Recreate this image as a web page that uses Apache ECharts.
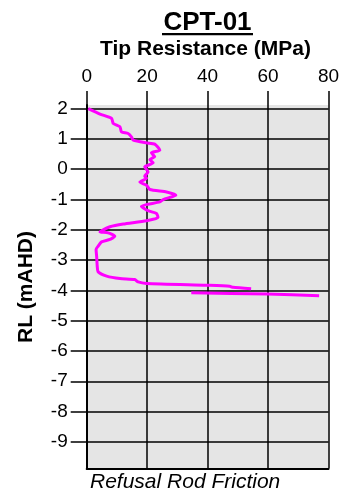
<!DOCTYPE html>
<html>
<head>
<meta charset="utf-8">
<script src="https://cdn.jsdelivr.net/npm/echarts@6/dist/echarts.min.js"></script>
<style>
html,body{margin:0;padding:0;background:#fff;}
#c{width:343px;height:498px;}
</style>
</head>
<body>
<div id="c"></div>
<script>
// RL (mAHD) along the trace; null marks a break in the trace
var rlValues = [2.0, 1.82, 1.68, 1.51, 1.40, 1.23, 1.18, 1.07, 0.96, 0.87, 0.83, 0.63, 0.54, 0.41, 0.32, 0.21, 0.08, -0.09, -0.23, -0.30, -0.42, -0.53, -0.67, -0.75, -0.86, -1.00, -1.08, -1.22, -1.37, -1.46, -1.59, -1.70, -1.81, -1.90, -2.03, -2.07, -2.10, -2.21, -2.32, -2.40, -2.54, -2.65, -2.89, -3.22, -3.39, -3.53, -3.61, -3.64, -3.72, -3.77, -3.83, -3.86, -3.90, -3.95, null, -4.08, -4.12, -4.18];
// Tip resistance (MPa)
var tipResistance = [0.5, 4.4, 8.2, 8.8, 11, 11.5, 13.7, 14.8, 15.4, 19.8, 22.5, 24.2, 21.4, 22.5, 20.9, 22, 19.2, 20.3, 19.2, 19.8, 17.6, 19.8, 20.9, 26.4, 29.5, 25.3, 24.2, 18.1, 20.3, 23.1, 23.6, 19.8, 12.1, 7.7, 4.9, 4.4, 7.1, 9.3, 7.7, 4.9, 3.8, 3.1, 3.3, 3.5, 3.8, 6.6, 11, 15.9, 17, 19.8, 39.6, 47.3, 48.4, 54.4, null, 34.6, 59.9, 76.9];
var rlTicks = [2, 1, 0, -1, -2, -3, -4, -5, -6, -7, -8, -9];
var titleText = 'CPT-01';
var xName = 'Tip Resistance (MPa)';
var yName = 'RL (mAHD)';
var footText = 'Refusal Rod Friction';

var data = [];
for (var i = 0; i < rlValues.length; i++) {
  if (rlValues[i] === null) data.push(['-', '-']);
  else data.push([tipResistance[i], rlValues[i]]);
}

var FONT = '"Liberation Sans", Arial, sans-serif';
var chart = echarts.init(document.getElementById('c'));
chart.setOption({
  animation: false,
  graphic: [
    {type: 'text', x: 207.5, y: 22.5, style: {text: titleText, align: 'center', verticalAlign: 'middle', fontFamily: FONT, fontWeight: 'bold', fontSize: 26, fill: '#000'}},
    {type: 'rect', shape: {x: 162, y: 33, width: 91, height: 2.2}, style: {fill: '#000'}},
    {type: 'text', x: 205.5, y: 49, style: {text: xName, align: 'center', verticalAlign: 'middle', fontFamily: FONT, fontWeight: 'bold', fontSize: 21, fill: '#000'}},
    {type: 'text', x: 26, y: 287, rotation: Math.PI / 2, style: {text: yName, align: 'center', verticalAlign: 'middle', fontFamily: FONT, fontWeight: 'bold', fontSize: 21, fill: '#000'}},
    {type: 'text', left: 90, top: 472, style: {text: footText, fontFamily: FONT, fontStyle: 'italic', fontSize: 21, fill: '#000'}}
  ],
  grid: {left: 86.7, right: 14.5, top: 105, bottom: 29.5, show: true, backgroundColor: '#e5e5e5', borderWidth: 0},
  xAxis: [{
    type: 'value', position: 'top', min: 0, max: 80, interval: 20,
    axisLine: {show: false, onZero: false},
    axisTick: {show: true, length: 14, lineStyle: {color: '#000', width: 1.5}},
    axisLabel: {fontFamily: FONT, fontSize: 19, color: '#000', margin: 19},
    splitLine: {show: true, lineStyle: {color: '#000', width: 1.5}}
  }, {
    type: 'value', position: 'bottom', min: 0, max: 80,
    axisLine: {show: true, onZero: false, lineStyle: {color: '#000', width: 2}},
    axisTick: {show: false}, axisLabel: {show: false}, splitLine: {show: false}
  }],
  yAxis: {
    type: 'value', min: -9.88, max: 2.12,
    axisLine: {show: true, onZero: false, lineStyle: {color: '#000', width: 2}},
    axisTick: {show: true, length: 16, lineStyle: {color: '#000', width: 1.5}, customValues: rlTicks},
    axisLabel: {fontFamily: FONT, fontSize: 19, color: '#000', margin: 19, customValues: rlTicks},
    splitLine: {show: true, lineStyle: {color: '#000', width: 1.5}}
  },
  series: [{
    type: 'line', xAxisIndex: 0, data: data, showSymbol: false, smooth: 0.2,
    connectNulls: false,
    lineStyle: {color: '#ff00ff', width: 3}
  }]
});
</script>
</body>
</html>
